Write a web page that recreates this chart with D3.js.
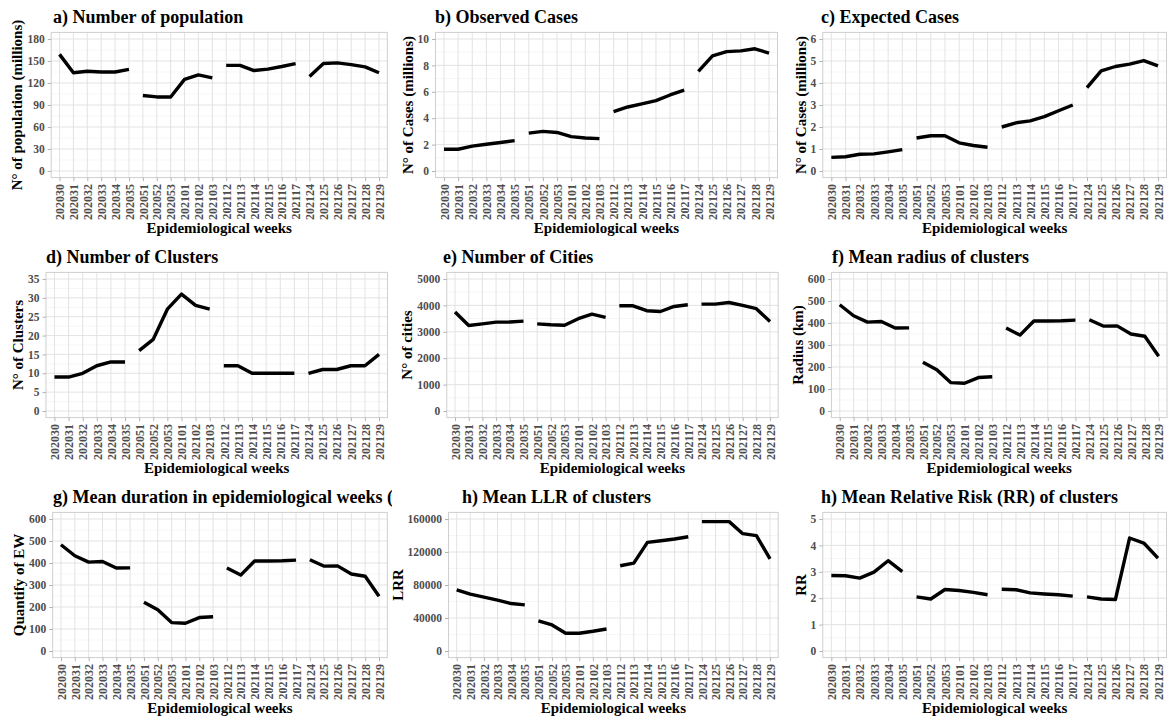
<!DOCTYPE html>
<html>
<head>
<meta charset="utf-8">
<script src="https://cdn.jsdelivr.net/npm/d3@7"></script>
<style>
body { margin: 0; background: #fff; }
svg { display: block; font-family: "Liberation Serif", "Times New Roman", serif; }
</style>
</head>
<body>
<svg id="chart" width="1168" height="717"></svg>
<script>
// epidemiological weeks and the period each one belongs to (line breaks between periods)
var weeks = ["202030","202031","202032","202033","202034","202035",
	"202051","202052","202053","202101","202102","202103",
	"202112","202113","202114","202115","202116","202117",
	"202124","202125","202126","202127","202128","202129"];
var period = [1,1,1,1,1,1, 2,2,2,2,2,2, 3,3,3,3,3,3, 4,4,4,4,4,4];

var population = [159,134,136,135,135,138.5, 103,101,101,125,131,127, 144,144,137,139,142.5,146.5, 129,146.5,147.5,145,142,134];
var observed = [1.65,1.65,1.88,2.03,2.16,2.3, 2.87,3.0,2.92,2.6,2.5,2.45, 4.5,4.85,5.08,5.33,5.76,6.12, 7.54,8.73,9.04,9.1,9.26,8.93];
var expected = [0.62,0.65,0.76,0.78,0.87,0.97, 1.5,1.6,1.6,1.28,1.16,1.08, 2.0,2.19,2.28,2.47,2.74,3.0, 3.79,4.55,4.75,4.86,5.02,4.78];
var clusters = [9,9,10,12,13,13, 16,19,27,31,28,27, 12,12,10,10,10,10, 10,11,11,12,12,15];
var cities = [3750,3240,3300,3365,3370,3405, 3300,3265,3250,3495,3670,3545, 3985,3985,3800,3770,3960,4025, 4050,4050,4110,4000,3875,3390];
var radius = [483,433,404,407,377,378, 222,187,129,126,152,156, 377,345,409,409,410,413, 415,386,387,350,340,249];
var duration = [483,433,404,407,377,378, 222,187,129,126,152,156, 377,345,409,409,410,413, 415,386,387,350,340,249];
var llr = [74000,68900,65200,61600,57500,55900, 36500,31600,21500,21500,23900,26700, 103300,106500,131600,133700,135700,138500, 156800,156800,156800,142200,139800,111800];
var rr = [2.86,2.85,2.76,2.99,3.42,3.01, 2.05,1.97,2.33,2.29,2.22,2.13, 2.34,2.32,2.2,2.16,2.13,2.08, 2.05,1.97,1.95,4.28,4.09,3.52];

var xTitle = "Epidemiological weeks";

var panels = [
	{ title: "a) Number of population", ylab: "N° of population (millions)", values: population, max: 180, step: 30, row: 0, col: 0 },
	{ title: "b) Observed Cases", ylab: "N° of Cases (millions)", values: observed, max: 10, step: 2, row: 0, col: 1 },
	{ title: "c) Expected Cases", ylab: "N° of Cases (millions)", values: expected, max: 6, step: 1, row: 0, col: 2 },
	{ title: "d) Number of Clusters", ylab: "N° of Clusters", values: clusters, max: 35, step: 5, row: 1, col: 0 },
	{ title: "e) Number of Cities", ylab: "N° of cities", values: cities, max: 5000, step: 1000, row: 1, col: 1 },
	{ title: "f) Mean radius of clusters", ylab: "Radius (km)", values: radius, max: 600, step: 100, row: 1, col: 2 },
	{ title: "g) Mean duration in epidemiological weeks (EW)", ylab: "Quantify of EW", values: duration, max: 600, step: 100, row: 2, col: 0 },
	{ title: "h) Mean LLR of clusters", ylab: "LRR", values: llr, max: 160000, step: 40000, row: 2, col: 1 },
	{ title: "h) Mean Relative Risk (RR) of clusters", ylab: "RR", values: rr, max: 5, step: 1, row: 2, col: 2 }
];

// layout of each panel (plot area left/right, title start)
var layout = [
	{ x0: 51.2, x1: 387.3, tx: 53 },
	{ x0: 435.5, x1: 777.5, tx: 435 },
	{ x0: 822.8, x1: 1166.5, tx: 821 },
	{ x0: 46, x1: 387.5, tx: 46 },
	{ x0: 446.8, x1: 778.2, tx: 443 },
	{ x0: 831.4, x1: 1167, tx: 832 },
	{ x0: 52.7, x1: 387.3, tx: 53 },
	{ x0: 448.5, x1: 778.2, tx: 462 },
	{ x0: 822.8, x1: 1166.5, tx: 821 }
];
var rowTop = [32.4, 272.4, 512.4];
var panelH = 145.2;
var colClip = [[0, 392], [392, 778], [778, 1168]];

var svg = d3.select("#chart");
svg.append("rect").attr("width", 1168).attr("height", 717).attr("fill", "#fff");

var defs = svg.append("defs");
colClip.forEach(function(c, i) {
	defs.append("clipPath").attr("id", "col" + i)
		.append("rect").attr("x", c[0]).attr("y", 0).attr("width", c[1] - c[0]).attr("height", 717);
});

panels.forEach(function(p, k) {
	var L = layout[k];
	var top = rowTop[p.row], bottom = top + panelH;
	var g = svg.append("g");

	var x = d3.scalePoint().domain(weeks).range([L.x0, L.x1]).padding(0.6);
	var y = d3.scaleLinear().domain([-0.05 * p.max, 1.05 * p.max]).range([bottom, top]);

	var major = d3.range(0, p.max + p.step / 2, p.step);
	var minor = d3.range(p.step / 2, p.max, p.step);

	// grid
	g.append("g").selectAll("line").data(minor).join("line")
		.attr("x1", L.x0).attr("x2", L.x1)
		.attr("y1", function(d) { return y(d); }).attr("y2", function(d) { return y(d); })
		.attr("stroke", "#ececec").attr("stroke-width", 0.5);
	g.append("g").selectAll("line").data(major).join("line")
		.attr("x1", L.x0).attr("x2", L.x1)
		.attr("y1", function(d) { return y(d); }).attr("y2", function(d) { return y(d); })
		.attr("stroke", "#e0e0e0").attr("stroke-width", 0.9);
	g.append("g").selectAll("line").data(weeks).join("line")
		.attr("y1", top).attr("y2", bottom)
		.attr("x1", function(d) { return x(d); }).attr("x2", function(d) { return x(d); })
		.attr("stroke", "#e0e0e0").attr("stroke-width", 0.9);
	g.append("rect")
		.attr("x", L.x0).attr("y", top).attr("width", L.x1 - L.x0).attr("height", panelH)
		.attr("fill", "none").attr("stroke", "#cfcfcf").attr("stroke-width", 1);

	// axes
	var yAxis = g.append("g")
		.attr("transform", "translate(" + L.x0 + ",0)")
		.call(d3.axisLeft(y).tickValues(major).tickFormat(d3.format("d")).tickSize(3.5).tickPadding(3));
	var xAxis = g.append("g")
		.attr("transform", "translate(0," + bottom + ")")
		.call(d3.axisBottom(x).tickSize(3.5).tickPadding(3));
	[yAxis, xAxis].forEach(function(a) {
		a.select(".domain").remove();
		a.selectAll(".tick line").attr("stroke", "#b3b3b3");
		a.selectAll("text").attr("fill", "#4d4d4d").attr("font-weight", "bold")
			.attr("font-family", "Liberation Serif, serif");
	});
	yAxis.selectAll("text").attr("font-size", 11.5);
	xAxis.selectAll("text").attr("font-size", 12)
		.attr("transform", "rotate(-90)")
		.attr("text-anchor", "end")
		.attr("x", -6.5).attr("y", 0).attr("dy", "0.35em");

	// series, one path per period
	var rows = weeks.map(function(w, i) { return { week: w, value: p.values[i], period: period[i] }; });
	var line = d3.line()
		.x(function(d) { return x(d.week); })
		.y(function(d) { return y(d.value); });
	g.append("g").selectAll("path").data(d3.groups(rows, function(d) { return d.period; })).join("path")
		.attr("d", function(d) { return line(d[1]); })
		.attr("fill", "none").attr("stroke", "#000").attr("stroke-width", 3.4)
		.attr("stroke-linejoin", "round").attr("stroke-linecap", "butt");

	// titles
	svg.append("text")
		.attr("clip-path", "url(#col" + p.col + ")")
		.attr("x", L.tx).attr("y", top - 9.7)
		.attr("font-size", 18).attr("font-weight", "bold").attr("fill", "#000")
		.text(p.title);

	g.append("text")
		.attr("x", (L.x0 + L.x1) / 2).attr("y", bottom + 55.5)
		.attr("text-anchor", "middle")
		.attr("font-size", 15).attr("font-weight", "bold").attr("fill", "#000")
		.text(xTitle);

	var labLeft = yAxis.node().getBBox().x + L.x0;
	g.append("text")
		.attr("transform", "translate(" + (labLeft - 5) + "," + ((top + bottom) / 2) + ") rotate(-90)")
		.attr("text-anchor", "middle")
		.attr("font-size", 15).attr("font-weight", "bold").attr("fill", "#000")
		.text(p.ylab);
});
</script>
</body>
</html>
